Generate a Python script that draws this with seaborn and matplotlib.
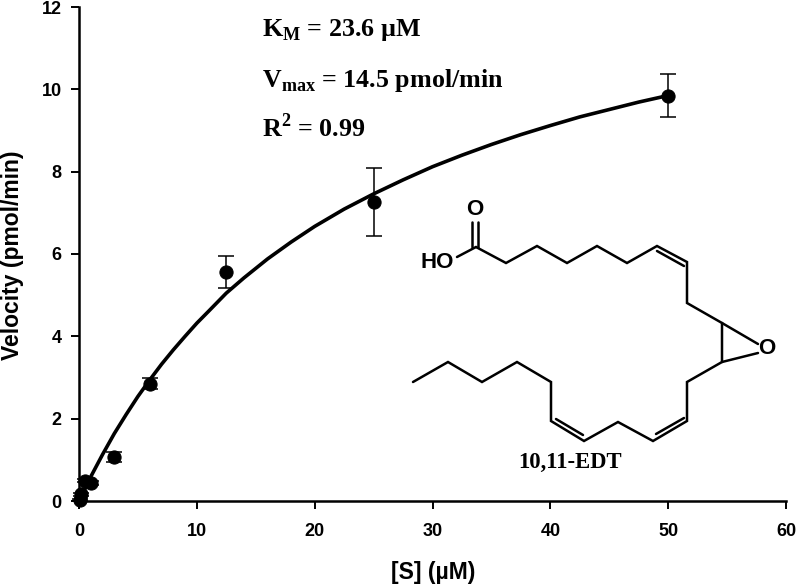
import matplotlib
matplotlib.use("Agg")
import matplotlib.pyplot as plt
import seaborn as sns
from matplotlib.lines import Line2D

# measured points
conc = [0.05, 0.2, 0.5, 1, 3, 6, 12.5, 25, 50]
velocity = [0.03, 0.16, 0.49, 0.44, 1.07, 2.85, 5.57, 7.27, 9.85]
errors = [0.02, 0.03, 0.04, 0.04, 0.13, 0.13, 0.39, 0.83, 0.52]

# fitted curve
fit_conc = [0, 1, 2, 3, 4, 5, 6, 7, 8, 9, 10, 11, 12.5, 14, 16, 18, 20, 22.5, 25,
            27.5, 30, 32.5, 35, 37.5, 40, 42.5, 45, 47.5, 50]
fit_velocity = [0, 0.59, 1.13, 1.64, 2.10, 2.54, 2.94, 3.32, 3.67, 4.00, 4.32, 4.61,
                5.05, 5.42, 5.88, 6.29, 6.67, 7.09, 7.46, 7.80, 8.12, 8.40, 8.66,
                8.90, 9.12, 9.33, 9.51, 9.69, 9.85]

x_ticks = [0, 10, 20, 30, 40, 50, 60]
y_ticks = [0, 2, 4, 6, 8, 10, 12]

W, H = 796, 585

sns.set_style("white")
plt.rcParams['font.family'] = ['Liberation Sans', 'DejaVu Sans']
plt.rcParams['text.color'] = 'black'
plt.rcParams['axes.labelcolor'] = 'black'
plt.rcParams['xtick.color'] = 'black'
plt.rcParams['ytick.color'] = 'black'
plt.rcParams['mathtext.fontset'] = 'custom'
plt.rcParams['mathtext.bf'] = 'Liberation Serif:bold'
plt.rcParams['mathtext.rm'] = 'Liberation Serif:bold'

fig = plt.figure(figsize=(W / 100, H / 100), dpi=100)
ax = fig.add_axes([79 / W, 1 - 501 / H, (786 - 79) / W, (501 - 7) / H])

sns.lineplot(x=fit_conc, y=fit_velocity, color='black', linewidth=2.6, ax=ax, clip_on=False)
ax.errorbar(conc, velocity, yerr=errors, fmt='none', ecolor='black', elinewidth=1.1,
            capsize=5.5, capthick=1.1, clip_on=False, zorder=3)
sns.scatterplot(x=conc, y=velocity, color='black', s=90, edgecolor='black', ax=ax,
                clip_on=False, zorder=4)

ax.set_xlim(0, 60)
ax.set_ylim(0, 12)
ax.set_xticks(x_ticks)
ax.set_yticks(y_ticks)
ax.tick_params(axis='both', direction='out', length=6, width=1.4, left=True, bottom=True,
               labelsize=13)
ax.tick_params(axis='x', pad=10)
ax.tick_params(axis='y', pad=6.5)
for lab in ax.get_xticklabels() + ax.get_yticklabels():
    lab.set_fontweight('bold')
sns.despine(ax=ax)
for s in ['left', 'bottom']:
    ax.spines[s].set_linewidth(1.8)
    ax.spines[s].set_color('black')

ax.set_xlabel('[S] (µM)', fontsize=16.5, fontweight='bold', va='center')
ax.set_ylabel('Velocity (pmol/min)', fontsize=16.5, fontweight='bold', va='center')
ax.xaxis.set_label_coords(433 / W, 1 - 572 / H, transform=fig.transFigure)
ax.yaxis.set_label_coords(13 / W, 1 - 255 / H, transform=fig.transFigure)


def px_text(x, y, s, **kw):
    fig.text(x / W, 1 - y / H, s, family=['Liberation Serif'], fontweight='bold', **kw)


def bond(pts, lw=1.8):
    fig.add_artist(Line2D([p[0] / W for p in pts], [1 - p[1] / H for p in pts],
                          color='black', linewidth=lw, solid_joinstyle='miter'))


# annotations
px_text(262, 36, r'K$_{\mathbf{M}}$ = 23.6 µM', fontsize=18.7)
px_text(262, 87, r'V$_{\mathbf{max}}$ = 14.5 pmol/min', fontsize=18.7)
px_text(262, 137, r'R$^{\mathbf{2}}$ = 0.99', fontsize=18.7)
px_text(570, 462, '10,11-EDT', fontsize=16.3, ha='center', va='center')

# structure drawing, figure pixels
bond([(476, 247), (506, 263), (537, 246), (567, 263), (597, 246), (627, 263), (657, 246),
      (687, 262), (687, 303), (722, 323), (722, 362), (687, 382), (687, 421), (653, 441),
      (618, 422), (584, 441), (551, 421), (551, 382), (517, 362), (482, 382), (448, 362),
      (413, 382)])
bond([(722, 323), (758, 344)])
bond([(722, 362), (758, 353)])
bond([(457, 257), (476, 247)])
bond([(472, 222), (472, 247)])
bond([(478, 222), (478, 247)])
bond([(657, 251), (684, 266)])
bond([(556, 419), (583, 435)])
bond([(656, 434), (684, 418)])
fig.text(475 / W, 1 - 209 / H, 'O', fontsize=16, fontweight='bold', ha='center', va='center')
fig.text(767 / W, 1 - 348 / H, 'O', fontsize=16, fontweight='bold', ha='center', va='center')
fig.text(437 / W, 1 - 262 / H, 'HO', fontsize=16, fontweight='bold', ha='center', va='center')

fig.savefig('out.png', dpi=100)
